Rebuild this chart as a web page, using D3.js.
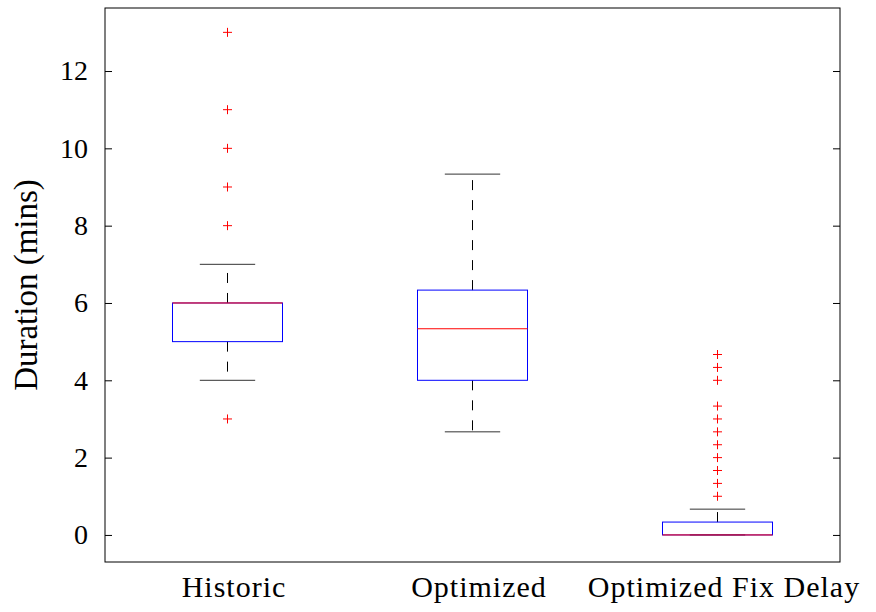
<!DOCTYPE html>
<html>
<head>
<meta charset="utf-8">
<script src="https://cdn.jsdelivr.net/npm/d3@7"></script>
<style>
  body { margin: 0; background: #fff; }
  text { font-family: "Liberation Serif", "Times New Roman", serif; fill: #000; }
</style>
</head>
<body>
<div id="chart"></div>
<script>
// Data (minutes)
const categories = ["Historic", "Optimized", "Optimized Fix Delay"];
const lowerWhisker = [4, 2.667, 0];
const q1 = [5, 4, 0];
const median = [6, 5.333, 0];
const q3 = [6, 6.333, 0.333];
const upperWhisker = [7, 9.333, 0.667];
const outliersHistoric = [3, 8, 9, 10, 11, 13];
const outliersOptimized = [];
const outliersFixDelay = [1, 1.333, 1.667, 2, 2.333, 2.667, 3, 3.333, 4, 4.333, 4.667];
const yTicks = [0, 2, 4, 6, 8, 10, 12];

(function() {
  const width = 876, height = 612;
  const margin = {top: 8, right: 36, bottom: 50, left: 105};
  const innerW = width - margin.left - margin.right,
        innerH = height - margin.top - margin.bottom;

  const boxHalf = 0.2245, capHalf = 0.113, plusSize = 4.5;

  const x = d3.scaleLinear().domain([0.5, 3.5]).range([0, innerW]);
  const y = d3.scaleLinear().domain([-0.7, 13.63]).range([innerH, 0]);

  const svg = d3.select("#chart").append("svg")
    .attr("width", width)
    .attr("height", height);

  const g = svg.append("g")
    .attr("transform", `translate(${margin.left},${margin.top})`);

  const outliers = [outliersHistoric, outliersOptimized, outliersFixDelay];
  const boxes = categories.map((c, i) => ({
    name: c, pos: i + 1,
    lo: lowerWhisker[i], q1: q1[i], med: median[i], q3: q3[i], hi: upperWhisker[i],
    out: outliers[i]
  }));

  // whiskers (dashed, starting from the box)
  boxes.forEach(b => {
    const cx = x(b.pos);
    g.append("line")
      .attr("x1", cx).attr("x2", cx)
      .attr("y1", y(b.q3)).attr("y2", y(b.hi))
      .attr("stroke", "#000").attr("stroke-dasharray", "10,10");
    g.append("line")
      .attr("x1", cx).attr("x2", cx)
      .attr("y1", y(b.q1)).attr("y2", y(b.lo))
      .attr("stroke", "#000").attr("stroke-dasharray", "10,10");
    [b.lo, b.hi].forEach(v => {
      g.append("line")
        .attr("x1", x(b.pos - capHalf)).attr("x2", x(b.pos + capHalf))
        .attr("y1", y(v)).attr("y2", y(v))
        .attr("stroke", "#333");
    });
  });

  // boxes
  g.selectAll("rect.box")
    .data(boxes)
    .enter().append("rect")
      .attr("class", "box")
      .attr("x", d => x(d.pos - boxHalf))
      .attr("y", d => y(d.q3))
      .attr("width", d => x(d.pos + boxHalf) - x(d.pos - boxHalf))
      .attr("height", d => y(d.q1) - y(d.q3))
      .attr("fill", "none")
      .attr("stroke", "#0000ff");

  // medians
  g.selectAll("line.median")
    .data(boxes)
    .enter().append("line")
      .attr("class", "median")
      .attr("x1", d => x(d.pos - boxHalf))
      .attr("x2", d => x(d.pos + boxHalf))
      .attr("y1", d => y(d.med))
      .attr("y2", d => y(d.med))
      .attr("stroke", "#ff0000");

  // outliers
  boxes.forEach(b => {
    g.append("g").selectAll("path")
      .data(b.out)
      .enter().append("path")
        .attr("d", v => {
          const cx = x(b.pos), cy = y(v);
          return `M${cx - plusSize},${cy}H${cx + plusSize}M${cx},${cy - plusSize}V${cy + plusSize}`;
        })
        .attr("stroke", "#ff0000")
        .attr("fill", "none");
  });

  // axes: ticks inward on both sides
  const yAxisLeft = g.append("g")
    .call(d3.axisLeft(y).tickValues(yTicks).tickSizeInner(-7).tickSizeOuter(0).tickPadding(17));
  yAxisLeft.select(".domain").remove();
  yAxisLeft.selectAll("text").style("font-size", "28px").style("font-family", "Liberation Serif");

  const yAxisRight = g.append("g")
    .attr("transform", `translate(${innerW},0)`)
    .call(d3.axisRight(y).tickValues(yTicks).tickSizeInner(-7).tickSizeOuter(0).tickFormat(""));
  yAxisRight.select(".domain").remove();

  const xAxis = g.append("g")
    .attr("transform", `translate(0,${innerH})`)
    .call(d3.axisBottom(x).tickValues([1, 2, 3]).tickSize(0)
      .tickFormat((d, i) => categories[i]));
  xAxis.select(".domain").remove();
  xAxis.selectAll("text")
    .attr("y", 35)
    .attr("dy", 0)
    .attr("dx", 6)
    .style("letter-spacing", "1px")
    .style("font-size", "30px").style("font-family", "Liberation Serif");

  // frame
  g.append("rect")
    .attr("width", innerW).attr("height", innerH)
    .attr("fill", "none").attr("stroke", "#000");

  // y label
  svg.append("text")
    .attr("transform", `translate(37,${margin.top + innerH / 2}) rotate(-90)`)
    .attr("text-anchor", "middle")
    .style("font-size", "33px")
    .text("Duration (mins)");
})();
</script>
</body>
</html>
